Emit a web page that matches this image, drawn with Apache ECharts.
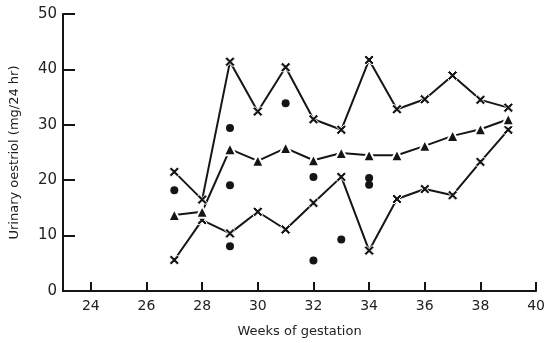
<!DOCTYPE html>
<html>
<head>
<meta charset="utf-8">
<script src="https://cdn.jsdelivr.net/npm/echarts@6/dist/echarts.min.js"></script>
<style>
  html,body{margin:0;padding:0;background:#fff;}
  #chart{width:548px;height:343px;}
</style>
</head>
<body>
<div id="chart"></div>
<script>
// weeks of gestation with readings
var weeks = [27, 28, 29, 30, 31, 32, 33, 34, 35, 36, 37, 38, 39];
// highest, mean and lowest oestriol per week (mg/24 hr)
var upperValues = [21.5, 16.5, 41.4, 32.4, 40.4, 31.0, 29.1, 41.7, 32.8, 34.6, 38.9, 34.5, 33.1];
var meanValues  = [13.7, 14.3, 25.6, 23.5, 25.8, 23.6, 24.9, 24.5, 24.5, 26.2, 28.0, 29.2, 31.0];
var lowerValues = [5.6, 12.8, 10.4, 14.3, 11.1, 15.9, 20.6, 7.3, 16.6, 18.4, 17.3, 23.3, 29.1];
// individual patient readings
var dotWeeks  = [27, 29, 29, 29, 31, 32, 32, 33, 34, 34];
var dotValues = [18.2, 29.4, 19.1, 8.1, 33.9, 20.6, 5.5, 9.3, 20.4, 19.2];
var xTicks = [24, 26, 28, 30, 32, 34, 36, 38, 40];

function pairs(xs, ys) {
  return xs.map(function (x, i) { return [x, ys[i]]; });
}

var crossPath = 'path://M0,2 L2,0 L5,3 L8,0 L10,2 L7,5 L10,8 L8,10 L5,7 L2,10 L0,8 L3,5 Z';
var ink = '#151515';
var font = 'DejaVu Sans';

var lineSeries = function (name, data, symbol, size, border) {
  return {
    name: name,
    type: 'line',
    data: data,
    symbol: symbol,
    symbolSize: size,
    lineStyle: { color: ink, width: 2 },
    itemStyle: { color: ink, borderColor: '#fff', borderWidth: border, opacity: 1 },
    z: 3
  };
};

var option = {
  animation: false,
  grid: { left: 61, right: 11, top: 14, bottom: 52 },
  xAxis: {
    type: 'value',
    min: 23,
    max: 40,
    name: 'Weeks of gestation',
    nameLocation: 'middle',
    nameGap: 34,
    nameTextStyle: { color: '#222', fontSize: 13, fontFamily: font },
    axisLine: { lineStyle: { color: ink, width: 2 } },
    axisTick: { inside: true, length: 9, customValues: xTicks, lineStyle: { color: ink, width: 2 } },
    axisLabel: { customValues: xTicks, color: '#222', fontSize: 14, fontFamily: font, margin: 8 },
    splitLine: { show: false }
  },
  yAxis: {
    type: 'value',
    min: 0,
    max: 50,
    interval: 10,
    name: 'Urinary oestriol (mg/24 hr)',
    nameLocation: 'middle',
    nameGap: 42,
    nameRotate: 90,
    nameTextStyle: { color: '#222', fontSize: 13, fontFamily: font },
    axisLine: { show: true, lineStyle: { color: ink, width: 2 } },
    axisTick: { show: true, inside: true, length: 12, lineStyle: { color: ink, width: 2 } },
    axisLabel: { color: '#222', fontSize: 15, fontFamily: font, margin: 6 },
    splitLine: { show: false }
  },
  series: [
    lineSeries('upper', pairs(weeks, upperValues), crossPath, 10, 1),
    lineSeries('lower', pairs(weeks, lowerValues), crossPath, 10, 1),
    lineSeries('mean', pairs(weeks, meanValues), 'triangle', 12, 2),
    {
      name: 'individual',
      type: 'scatter',
      data: pairs(dotWeeks, dotValues),
      symbol: 'circle',
      symbolSize: 8,
      itemStyle: { color: ink, opacity: 1 },
      z: 4
    }
  ]
};

var myChart = echarts.init(document.getElementById('chart'));
myChart.setOption(option);
</script>
</body>
</html>
